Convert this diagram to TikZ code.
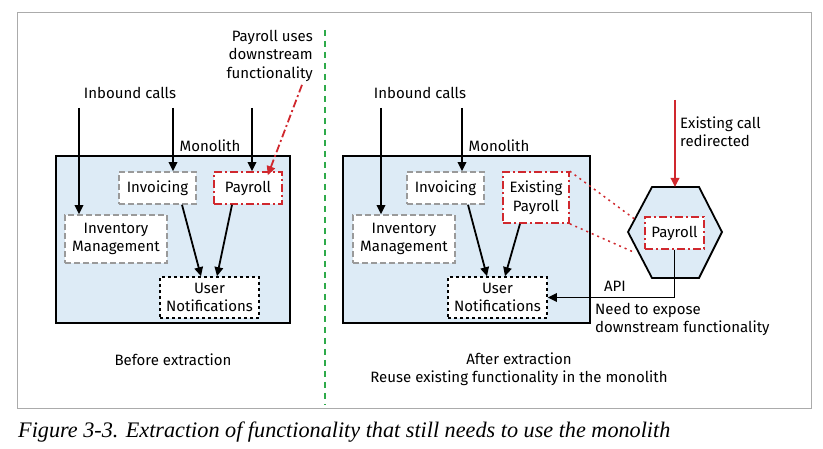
\documentclass[tikz,border=0pt]{standalone}
\usepackage{fontspec}
\setmainfont{Fira Sans}
\newfontfamily\capfont{Liberation Serif}
\usetikzlibrary{arrows.meta,calc}
\definecolor{monofill}{HTML}{DDEBF6}
\definecolor{redc}{HTML}{D0282E}
\definecolor{greenc}{HTML}{2EAA4A}
\definecolor{grayc}{HTML}{9A9A9A}
\definecolor{framec}{HTML}{ABABAB}
\tikzset{
  txt/.style={font=\fontsize{15}{18.5}\selectfont, inner sep=0pt, align=center},
  arr/.style={line width=1.8pt, -{Triangle[length=9pt,width=8.5pt]}},
  redarr/.style={line width=1.8pt, redc, -{Triangle[length=9pt,width=8.5pt]}},
  monobox/.style={draw=black, line width=2pt, fill=monofill},
  graybox/.style={draw=grayc, line width=1.6pt, dash pattern=on 6pt off 3pt, fill=white, txt},
  redbox/.style={draw=redc, line width=1.6pt, dash pattern=on 8pt off 3pt on 2pt off 3pt, fill=white, txt},
  dotbox/.style={draw=black, line width=1.6pt, dash pattern=on 3pt off 3pt, fill=white, txt},
}
\begin{document}
\begin{tikzpicture}[x=1pt,y=-1pt]
\useasboundingbox (0,0) rectangle (823,449);
\fill[white] (0,0) rectangle (823,449);
\draw[framec, line width=1pt] (17,13) rectangle (811,409);
\draw[greenc, line width=1.5pt, dash pattern=on 6pt off 5pt] (325,30) -- (325,405);

% ---------- left panel ----------
\node[monobox, minimum width=234pt, minimum height=167pt, inner sep=0pt] (mono) at (173,239.5) {};
\node[txt] (monol) at (210,146) {Monolith};
\node[txt] (inb) at (130,93) {Inbound calls};
\node[graybox, minimum width=77pt, minimum height=32pt] (inv) at (157.5,188) {Invoicing};
\node[redbox, minimum width=68pt, minimum height=32pt] (pay) at (248,188) {Payroll};
\node[graybox, minimum width=102pt, minimum height=48pt] (invm) at (116,239) {Inventory\\Management};
\node[dotbox, minimum width=99pt, minimum height=41pt] (un) at (209.5,297.5) {User\\Notifications};
\node[txt, align=right, anchor=north east] (puses) at (313,30) {Payroll uses\\downstream\\functionality};
\node[txt] (before) at (173,360) {Before extraction};

\coordinate (s1) at (79,108);
\coordinate (s2) at (173,108);
\coordinate (s3) at (252,108);
\draw[arr] (s1) -- (s1 |- invm.north);
\draw[arr] (s2) -- (s2 |- inv.north);
\draw[arr] (s3) -- (s3 |- pay.north);
\draw[arr] ([xshift=24.5pt]inv.south) -- ([xshift=-8.5pt]un.north);
\draw[arr] ([xshift=-16pt]pay.south) -- ([xshift=7.5pt]un.north);
\draw[redarr, dash pattern=on 8pt off 3pt on 2pt off 3pt] ([xshift=-11pt,yshift=-3pt]puses.south east) -- ([xshift=-15pt,yshift=-4pt]pay.north east);

% ---------- right panel ----------
\node[monobox, minimum width=247pt, minimum height=167pt, inner sep=0pt] (mono2) at (466.5,239.5) {};
\node[txt] (monol2) at (499,146) {Monolith};
\node[txt] (inb2) at (420,93) {Inbound calls};
\node[graybox, minimum width=77pt, minimum height=32pt] (inv2) at (445.5,188) {Invoicing};
\node[redbox, minimum width=66pt, minimum height=51pt] (epay) at (536,197.5) {Existing\\Payroll};
\node[graybox, minimum width=102pt, minimum height=48pt] (invm2) at (404,239) {Inventory\\Management};
\node[dotbox, minimum width=99pt, minimum height=41pt] (un2) at (497.5,297.5) {User\\Notifications};

\draw[line width=1.8pt, fill=monofill] (652,187) coordinate (h1) -- (699,187) -- (722,232) -- (699,278) -- (652,278) -- (628,232) -- cycle;
\node[redbox, minimum width=59pt, minimum height=32pt] (pay2) at (674.5,233) {Payroll};

\draw[redc, line width=1.5pt, dash pattern=on 2pt off 4pt] (epay.north east) -- ([xshift=-8pt,yshift=-4pt]pay2.north west);
\draw[redc, line width=1.5pt, dash pattern=on 2pt off 4pt] (epay.south east) -- ([xshift=-9pt,yshift=-3pt]pay2.south west);

\coordinate (r1) at (381,108);
\coordinate (r2) at (462,108);
\draw[arr] (r1) -- (r1 |- invm2.north);
\draw[arr] (r2) -- (r2 |- inv2.north);
\draw[arr] ([xshift=22.5pt]inv2.south) -- ([xshift=-10.5pt]un2.north);
\draw[arr] ([xshift=-16pt]epay.south) -- ([xshift=7.5pt]un2.north);

\coordinate (rc) at (675,100);
\draw[redarr] (rc) -- (rc |- h1);
\node[txt, align=left, anchor=west] (exist) at (680,131.5) {Existing call\\redirected};

\draw[arr] (pay2.south) |- (un2.east);
\node[txt] (api) at (615,286) {API};
\node[txt, align=left, anchor=north west] (need) at (595,303) {Need to expose\\downstream functionality};

\node[txt] (after) at (519,369) {After extraction\\Reuse existing functionality in the monolith};

% caption
\node[anchor=base west, inner sep=0pt] (cap) at (18,437) {\capfont\itshape\fontsize{22.2}{26}\selectfont Figure 3-3. Extraction of functionality that still needs to use the monolith};
\end{tikzpicture}
\end{document}
